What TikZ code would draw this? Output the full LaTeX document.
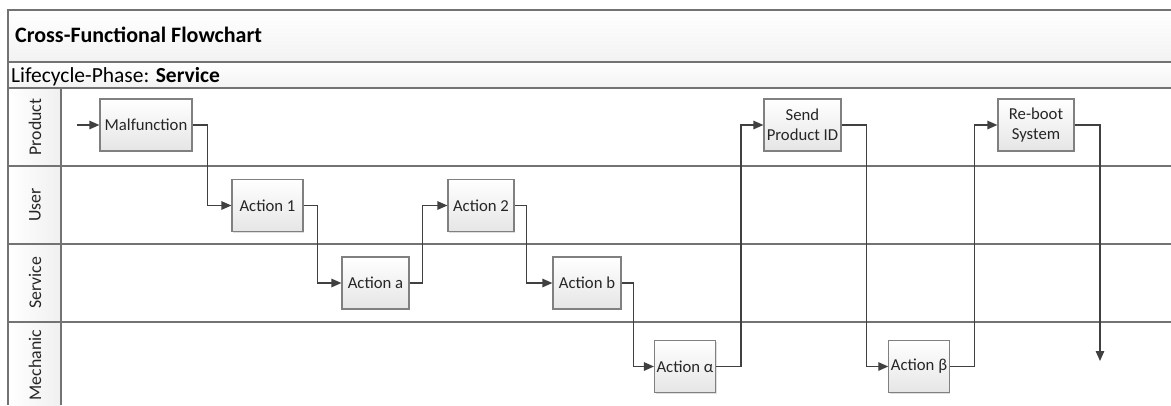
\documentclass[tikz,border=0pt]{standalone}
\usepackage{fontspec}
\setmainfont{Carlito}
\usetikzlibrary{arrows.meta,shadows}
\begin{document}
\begin{tikzpicture}[x=1pt,y=-1pt,
  box/.style={draw=gray,line width=1.2pt,top color=white,bottom color=gray!20,minimum height=52pt,
    align=center,inner sep=2pt,text=black!85,font=\fontsize{16.7}{20}\selectfont,
    drop shadow={shadow xshift=1.2pt,shadow yshift=-1.2pt,opacity=.25}},
  flow/.style={draw=black!75,line width=1.3pt,-{Triangle[length=10pt,width=8.5pt]}},
  lane/.style={rotate=90,font=\fontsize{17.8}{20}\selectfont,text=black!85},
  frame/.style={draw=black!55,line width=1.3pt}]
\useasboundingbox (0,0) rectangle (1171,405);
% header bands
\shade[top color=white,bottom color=gray!10] (8,10) rectangle (1171,62);
\shade[top color=white,bottom color=gray!10] (8,62) rectangle (1171,88);
\shade[left color=white,right color=gray!12] (8,88) rectangle (61,405);
\draw[frame] (1171,10) -- (8,10) -- (8,405);
\foreach \y in {62,88,166,244,322}
\draw[frame] (8,\y) -- (1171,\y);
\draw[frame] (61,88) -- (61,405);
\node[anchor=base west,inner sep=0pt,font=\bfseries\fontsize{22}{24}\selectfont] (title) at (15,42) {Cross-Functional Flowchart};
\node[anchor=base west,inner sep=0pt,font=\fontsize{21.5}{24}\selectfont] (phase) at (11,82) {Lifecycle-Phase: \textbf{Service}};
% lanes
\foreach \name/\y in {Product/127,User/205,Service/283,Mechanic/365}
\node[lane] (lane\name) at (35,\y) {\name};
%%%%
\node[box,minimum width=92pt] (malf) at (146,125) {Malfunction};
\node[box,minimum width=71pt] (act1) at (267.5,205.5) {Action 1};
\node[box,minimum width=67pt] (acta) at (375.5,283) {Action a};
\node[box,minimum width=66pt] (act2) at (481,205.5) {Action 2};
\node[box,minimum width=68pt] (actb) at (587,283) {Action b};
\node[box,minimum width=60pt] (actal) at (685,366.5) {Action α};
\node[box,minimum width=77pt] (send) at (802.5,125) {Send\\Product ID};
\node[box,minimum width=60pt] (actbe) at (919,366.5) {Action β};
\node[box,minimum width=76pt] (reboot) at (1036,125) {Re-boot\\System};
\coordinate (in) at (77,125);
\coordinate (out) at (1100,361);
\draw[flow] (in) -- (malf);
\foreach \a/\b/\d in {malf/act1/15,act1/acta/14,acta/act2/13,act2/actb/12,actb/actal/12,actal/send/25,send/actbe/25,actbe/reboot/25}
\draw[flow] (\a.east) -- ++(\d,0) |- (\b.west);
\draw[flow] (reboot.east) -| (out);
\end{tikzpicture}
\end{document}
